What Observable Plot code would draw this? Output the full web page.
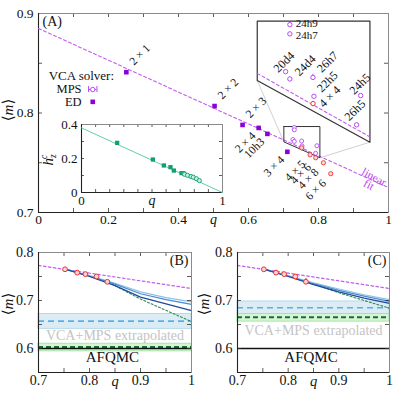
<!DOCTYPE html>
<html><head><meta charset="utf-8">
<script src="https://cdn.jsdelivr.net/npm/d3@7"></script>
<script src="https://cdn.jsdelivr.net/npm/@observablehq/plot@0.6"></script>
<style>
body{margin:0;background:#fff;}
#wrap{position:relative;width:397px;height:397px;overflow:hidden;}
#wrap > div{position:absolute;}
</style></head><body><div id="wrap"></div>
<script>
// ---------------- DATA ----------------
const fitQ = [0, 1];
const fitM = [0.885, 0.725];

const edQ = [0.251, 0.503, 0.583, 0.629, 0.654, 0.711];
const edM = [0.841, 0.807, 0.788, 0.785, 0.779, 0.761];
const edLabels = ["2 × 1", "2 × 2", "2 × 3", "2 × 4", "10h3", "3 × 4"];

const mpsQ = [0.7308, 0.7308, 0.7269, 0.7308, 0.7519, 0.7528, 0.7955, 0.7918];
const mpsM = [0.7855, 0.7831, 0.7733, 0.7714, 0.7718, 0.7669, 0.7671, 0.7595];
const mpsLabels = ["24h9", "24h7", "20d4", "24d4", "26h7", "22h5", "24h5", "26h5"];
const mpsErrIndex = [4];
const mpsErr = [0.0008];

const redQ = [0.752, 0.776, 0.792, 0.814, 0.835];
const redM = [0.765, 0.758, 0.755, 0.750, 0.739];
const redLabels = ["4 × 4", "4 × 5", "4 × 6", "4 × 8", "6 × 6"];

const zoomSrcQ = [0.701, 0.804];
const zoomSrcM = [0.755, 0.7864];
const zoomSrcCornerM = [0.771];
const zoomDstQ = [0.625, 0.947];
const zoomDstM = [0.7707, 0.8923];

const mainXTicks = [0, 0.1, 0.2, 0.3, 0.4, 0.5, 0.6, 0.7, 0.8, 0.9, 1];
const mainXLabels = [0, 0.2, 0.4, 0.6, 0.8, 1];
const mainYTicks = [0.7, 0.75, 0.8, 0.85, 0.9];
const mainYLabels = [0.7, 0.8, 0.9];

const insetLineQ = [0, 1];
const insetLineH = [0.38, 0];
const insetEdQ = [0.253, 0.506, 0.584, 0.631, 0.655, 0.709];
const insetEdH = [0.292, 0.194, 0.159, 0.149, 0.129, 0.114];
const insetMpsQ = [0.727, 0.731, 0.752, 0.777, 0.793, 0.815, 0.836];
const insetMpsH = [0.112, 0.107, 0.101, 0.094, 0.090, 0.081, 0.070];
const insetXTicks = [0, 0.1, 0.2, 0.3, 0.4, 0.5, 0.6, 0.7, 0.8, 0.9, 1];
const insetXLabels = [0, 1];
const insetYTicks = [0, 0.1, 0.2, 0.3, 0.4];
const insetYLabels = [0, 0.2, 0.4];

const bcXTicks = [0.7, 0.75, 0.8, 0.85, 0.9, 0.95, 1];
const bcXLabels = [0.7, 0.8, 0.9, 1];
const bcYTicks = [0.55, 0.6, 0.65, 0.7, 0.75, 0.8];
const bcYLabels = [0.6, 0.7, 0.8];

const extrapQ = [0.75, 0.8, 0.85, 0.9, 0.95, 1];
const bLight = [0.766, 0.752, 0.736, 0.718, 0.706, 0.697];
const bMid   = [0.766, 0.751, 0.734, 0.714, 0.702, 0.692];
const bDark  = [0.766, 0.750, 0.731, 0.707, 0.693, 0.679];
const cLight = [0.766, 0.752, 0.737, 0.724, 0.712, 0.702];
const cMid   = [0.766, 0.751, 0.735, 0.721, 0.709, 0.698];
const cDark  = [0.766, 0.750, 0.733, 0.718, 0.705, 0.694];
const greenQB = [0.83, 0.9, 1];
const greenMB = [0.742, 0.703, 0.656];
const greenQC = [0.84, 0.9, 1];
const greenMC = [0.738, 0.716, 0.684];

const bandBlueB = [0.641, 0.672];
const lineBlueB = [0.657];
const bandGreenB = [0.594, 0.610];
const lineGreenB = [0.603];
const bandBlueC = [0.672, 0.698];
const lineBlueC = [0.685];
const bandGreenC = [0.656, 0.672];
const lineGreenC = [0.665];
const afqmcM = [0.6];
const cErrQ = [0.835];
const cErrLo = [0.739];
const cErrHi = [0.746];

// ---------------- STYLE ----------------
const FONT = "'Liberation Serif', 'DejaVu Serif', serif";
const baseStyle = {fontFamily: FONT, fontSize: "13.5px", background: "transparent", color: "#111", overflow: "visible"};
const PURPLE_LINE = "#c25cf2";
const PURPLE_ED = "#8a00d8";
const PURPLE_MPS = "#b44cf0";
const RED = "#ee3030";
const TICK = "#333";

const wrap = document.getElementById("wrap");
function place(svg, left, top) {
  const d = document.createElement("div");
  d.style.left = left + "px"; d.style.top = top + "px";
  d.appendChild(svg); wrap.appendChild(d);
}
function inward(xt, yt, iw, ih, len) {
  return [
    Plot.tickX(xt, {x: d => d, insetTop: ih - len, stroke: TICK, strokeWidth: 0.8}),
    Plot.tickX(xt, {x: d => d, insetBottom: ih - len, stroke: TICK, strokeWidth: 0.8}),
    Plot.tickY(yt, {y: d => d, insetRight: iw - len, stroke: TICK, strokeWidth: 0.8}),
    Plot.tickY(yt, {y: d => d, insetLeft: iw - len, stroke: TICK, strokeWidth: 0.8})
  ];
}
function frameMarks(xd, yd) {
  return [
    Plot.frame({stroke: "#8a8a8a", strokeWidth: 1}),
    Plot.ruleX([xd[0]], {stroke: "#222", strokeWidth: 1.1}),
    Plot.ruleY([yd[0]], {stroke: "#222", strokeWidth: 1.1})
  ];
}
function mLabel(svg, x, y) {
  const t = d3.select(svg).append("text")
    .attr("transform", `translate(${x},${y}) rotate(-90)`)
    .attr("text-anchor", "middle").attr("font-size", 15).attr("font-family", FONT).attr("fill", "#111");
  t.append("tspan").text("⟨");
  t.append("tspan").attr("font-style", "italic").text("m");
  t.append("tspan").text("⟩");
}

// ---------------- PANEL A ----------------
const fitScale = d3.scaleLinear(fitQ, fitM);
const zq = d3.scaleLinear(zoomSrcQ, zoomDstQ);
const zm = d3.scaleLinear(zoomSrcM, zoomDstM);
const smallBox = [[zoomSrcQ[0], zoomSrcM[1]], [zoomSrcQ[1], zoomSrcM[1]], [zoomSrcQ[1], zoomSrcM[0]], [zoomSrcQ[0], zoomSrcCornerM[0]], [zoomSrcQ[0], zoomSrcM[1]]];
const bigBox = smallBox.map(([q, m]) => [zq(q), zm(m)]);
const connectors = [smallBox[3], smallBox[2]].map(([q, m]) => ({q1: q, m1: m, q2: zq(q), m2: zm(m)}));
const zoomFit = zoomSrcQ.map(q => [zq(q), zm(fitScale(q))]);
const edIdx = edQ.map((_, i) => i);
const mpsIdx = mpsQ.map((_, i) => i);
const redIdx = redQ.map((_, i) => i);

const zoomLabelPos = {"24h9": [6, -1, 0], "24h7": [6, 2, 0], "20d4": [-10, -1, -45], "24d4": [7, -5, -45],
  "26h7": [6, -7, -45], "22h5": [5, -6, -45], "24h5": [-9, -3, -45], "26h5": [-10, -6, -45]};
const zoomLabelMarks = mpsIdx.map(j => {
  const [dx, dy, rot] = zoomLabelPos[mpsLabels[j]];
  return Plot.text([j], {x: i => zq(mpsQ[i]), y: i => zm(mpsM[i]), text: i => mpsLabels[i], dx, dy, rotate: rot,
    textAnchor: "start", fontSize: rot ? 12 : 11, fill: "#111"});
});

const mainPlot = Plot.plot({
  width: 397, height: 230, marginLeft: 38, marginRight: 9, marginTop: 13, marginBottom: 18,
  style: baseStyle,
  x: {domain: [0, 1], ticks: mainXLabels, tickFormat: d => String(d), tickSize: 0, tickPadding: 2, label: null},
  y: {domain: [0.7, 0.9], ticks: mainYLabels, tickFormat: d => String(d), tickSize: 0, tickPadding: 5, label: null},
  marks: [
    ...inward(mainXTicks, mainYTicks, 350, 199, 4),
    ...frameMarks([0, 1], [0.7, 0.9]),
    Plot.line(fitQ.map((q, i) => [q, fitM[i]]), {x: d => d[0], y: d => d[1], stroke: PURPLE_LINE, strokeWidth: 1.1, strokeDasharray: "3,2.5"}),
    Plot.link(connectors, {x1: "q1", y1: "m1", x2: "q2", y2: "m2", stroke: "#c4c4c4", strokeWidth: 0.8}),
    Plot.line(smallBox, {x: d => d[0], y: d => d[1], stroke: "#333", strokeWidth: 1}),
    Plot.line(bigBox, {x: d => d[0], y: d => d[1], stroke: "#333", strokeWidth: 1.2}),
    Plot.line(zoomFit, {x: d => d[0], y: d => d[1], stroke: PURPLE_LINE, strokeWidth: 1.1, strokeDasharray: "3,2.5"}),
    Plot.dot(edIdx, {x: i => edQ[i], y: i => edM[i], symbol: "square", r: 2.6, fill: PURPLE_ED}),
    Plot.dot(mpsIdx, {x: i => mpsQ[i], y: i => mpsM[i], r: 2, stroke: PURPLE_MPS, fill: "white", strokeWidth: 0.9}),
    Plot.dot(redIdx, {x: i => redQ[i], y: i => redM[i], r: 2.1, stroke: RED, fill: "#ffd8d8", strokeWidth: 0.9}),
    Plot.ruleX(mpsErrIndex, {x: i => zq(mpsQ[i]), y1: (i, k) => zm(mpsM[i] - mpsErr[k]), y2: (i, k) => zm(mpsM[i] + mpsErr[k]), stroke: PURPLE_MPS, strokeWidth: 1}),
    Plot.dot(mpsIdx, {x: i => zq(mpsQ[i]), y: i => zm(mpsM[i]), r: 2.2, stroke: PURPLE_MPS, fill: "white", strokeWidth: 1}),
    Plot.dot([0], {x: i => zq(redQ[i]), y: i => zm(redM[i]), r: 2.2, stroke: RED, fill: "white", strokeWidth: 1}),
    ...zoomLabelMarks,
    Plot.text([0], {x: i => zq(redQ[i]), y: i => zm(redM[i]), text: i => redLabels[i], dx: 8, dy: 2, rotate: -45, textAnchor: "start", fontSize: 12, fill: "#111"}),
    Plot.text([0, 1, 2], {x: i => edQ[i], y: i => edM[i], text: i => edLabels[i], dx: 5, dy: -9, rotate: -45, textAnchor: "start", fontSize: 11.5, fill: "#111"}),
    Plot.text([3, 4, 5], {x: i => edQ[i], y: i => edM[i], text: i => edLabels[i], dx: -5, dy: 6, rotate: -45, textAnchor: "end", fontSize: 11.5, fill: "#111"}),
    Plot.text([1, 2, 3, 4], {x: i => redQ[i], y: i => redM[i], text: i => redLabels[i], dx: -15, dy: 16, rotate: -45, textAnchor: "middle", fontSize: 11.5, fill: "#111"}),
    Plot.text(["VCA solver:"], {x: () => 0.029, y: () => 0.8375, text: d => d, textAnchor: "start", fontSize: 13, fill: "#111"}),
    Plot.text(["MPS"], {x: () => 0.123, y: () => 0.8238, text: d => d, textAnchor: "end", fontSize: 12.5, fill: "#111"}),
    Plot.text(["ED"], {x: () => 0.123, y: () => 0.8108, text: d => d, textAnchor: "end", fontSize: 12.5, fill: "#111"}),
    Plot.ruleY([0.8236], {x1: 0.143, x2: 0.167, stroke: PURPLE_MPS, strokeWidth: 1}),
    Plot.ruleX([0.143, 0.167], {y1: 0.8206, y2: 0.8266, stroke: PURPLE_MPS, strokeWidth: 1}),
    Plot.dot([0], {x: () => 0.155, y: () => 0.8236, r: 2.2, stroke: PURPLE_MPS, fill: "white", strokeWidth: 1}),
    Plot.dot([0], {x: () => 0.155, y: () => 0.8112, symbol: "square", r: 2.6, fill: PURPLE_ED}),
    Plot.text(["(A)"], {frameAnchor: "top-left", text: d => d, textAnchor: "start", lineAnchor: "top", dx: 4, dy: 3, fontSize: 14, fill: "#111"}),
    Plot.text(["linear"], {x: () => 0.926, y: () => 0.7416, text: d => d, rotate: 28, textAnchor: "start", fontSize: 11.5, fill: "#c040f0"}),
    Plot.text(["fit"], {x: () => 0.931, y: () => 0.7302, text: d => d, rotate: 28, textAnchor: "start", fontSize: 11.5, fill: "#c040f0"}),
    Plot.text([0.5], {x: d => d, frameAnchor: "bottom", lineAnchor: "top", dy: 2, text: () => "q", fontStyle: "italic", fontSize: 14, fill: "#111"})
  ]
});
mLabel(mainPlot, 13, 110);
place(mainPlot, 0, 0);

// ---------------- INSET ----------------
const insetPlot = Plot.plot({
  width: 192, height: 107, marginLeft: 41, marginRight: 10, marginTop: 14, marginBottom: 25,
  style: {...baseStyle, fontSize: "13px"},
  x: {domain: [0, 1], ticks: insetXLabels, tickFormat: d => String(d), tickSize: 0, tickPadding: 3, label: null},
  y: {domain: [0, 0.4], ticks: insetYLabels, tickFormat: d => String(d), tickSize: 0, tickPadding: 4, label: null},
  marks: [
    Plot.frame({fill: "white", stroke: "none"}),
    ...inward(insetXTicks, insetYTicks, 141, 68, 3),
    ...frameMarks([0, 1], [0, 0.4]),
    Plot.line(insetLineQ.map((q, i) => [q, insetLineH[i]]), {x: d => d[0], y: d => d[1], stroke: "#5fd0a8", strokeWidth: 1}),
    Plot.dot(insetEdQ.map((q, i) => [q, insetEdH[i]]), {x: d => d[0], y: d => d[1], symbol: "square", r: 2.4, fill: "#10a070"}),
    Plot.dot(insetMpsQ.map((q, i) => [q, insetMpsH[i]]), {x: d => d[0], y: d => d[1], r: 2.1, stroke: "#10a070", fill: "#c8f0e0", strokeWidth: 0.9}),
    Plot.text([0.5], {x: d => d, frameAnchor: "bottom", lineAnchor: "top", dy: 3, text: () => "q", fontStyle: "italic", fontSize: 14, fill: "#111"})
  ]
});
{
  const t = d3.select(insetPlot).append("text")
    .attr("transform", "translate(13,50) rotate(-90)")
    .attr("text-anchor", "middle").attr("font-size", 15).attr("font-family", FONT).attr("fill", "#111");
  t.append("tspan").attr("font-style", "italic").text("h");
  t.append("tspan").attr("font-style", "italic").attr("font-size", 9.5).attr("dy", 3).text("z");
  t.append("tspan").attr("font-style", "italic").attr("font-size", 9.5).attr("dx", -4.5).attr("dy", -9).text("c");
}
place(insetPlot, 40, 110);

// ---------------- PANELS B, C ----------------
function bcPanel(o) {
  const xd = [0.7, 1], yd = [0.55, 0.8];
  const iw = 200 - o.ml - o.mr, ih = 120;
  const asPts = (qs, ms) => qs.map((q, i) => [q, ms[i]]);
  const marks = [
    Plot.rect([o.bandBlue], {x1: () => xd[0], x2: () => xd[1], y1: d => d[0], y2: d => d[1], fill: "#dcecf4", stroke: "#a8d2e8", strokeWidth: 0.8}),
    Plot.rect([o.bandGreen], {x1: () => xd[0], x2: () => xd[1], y1: d => d[0], y2: d => d[1], fill: "#d4f6d4", stroke: "#9ae29a", strokeWidth: 0.8}),
    Plot.ruleY(o.lineBlue, {stroke: "#5aaee8", strokeWidth: 1.6, strokeDasharray: "6,4"}),
    Plot.ruleY(o.lineGreen, {stroke: "#1e6b36", strokeWidth: 2, strokeDasharray: "5,3"}),
    Plot.ruleY(afqmcM, {stroke: "#111", strokeWidth: 1.6}),
    Plot.text(["VCA+MPS extrapolated"], {x: () => 0.85, y: () => o.vcaM, text: d => d, fill: "#c4c4c4", fontSize: 14}),
    Plot.text(["AFQMC"], {x: () => 0.845, y: () => 0.582, text: d => d, fill: "#111", fontSize: 15}),
    Plot.line(xd.map(q => [q, fitScale(q)]), {x: d => d[0], y: d => d[1], stroke: PURPLE_LINE, strokeWidth: 1.2, strokeDasharray: "2.5,2.5"}),
    Plot.line(asPts(o.greenQ, o.greenM), {x: d => d[0], y: d => d[1], stroke: "#2a8a55", strokeWidth: 1.1, strokeDasharray: "2,2"}),
    Plot.line(asPts(extrapQ, o.light), {x: d => d[0], y: d => d[1], stroke: "#8cc2ea", strokeWidth: 1.2}),
    Plot.line(asPts(extrapQ, o.mid), {x: d => d[0], y: d => d[1], stroke: "#4c8ad0", strokeWidth: 1.2}),
    Plot.line(asPts(extrapQ, o.dark), {x: d => d[0], y: d => d[1], stroke: "#1f4a98", strokeWidth: 1.2}),
    ...(o.err ? [Plot.ruleX(cErrQ, {x: d => d, y1: (d, i) => cErrLo[i], y2: (d, i) => cErrHi[i], stroke: RED, strokeWidth: 1})] : []),
    Plot.dot(asPts(redQ, redM), {x: d => d[0], y: d => d[1], r: 2.4, stroke: RED, fill: "#ffd4d4", strokeWidth: 1}),
    ...inward(bcXTicks, bcYTicks, iw, ih, 4),
    ...frameMarks(xd, yd),
    Plot.text([o.letter], {frameAnchor: "top-right", text: d => d, textAnchor: "end", lineAnchor: "top", dx: -3, dy: 3, fontSize: 14, fill: "#111"}),
    Plot.text([0.85], {x: d => d, frameAnchor: "bottom", lineAnchor: "top", dy: 3, text: () => "q", fontStyle: "italic", fontSize: 14.5, fill: "#111"})
  ];
  return Plot.plot({
    width: 200, height: 157, marginLeft: o.ml, marginRight: o.mr, marginTop: 12, marginBottom: 25,
    style: {...baseStyle, fontSize: "14px"},
    x: {domain: xd, ticks: bcXLabels, tickFormat: d => String(d), tickSize: 0, tickPadding: 3, label: null},
    y: {domain: yd, ticks: bcYLabels, tickFormat: d => String(d), tickSize: 0, tickPadding: 5, label: null},
    marks
  });
}
const panelB = bcPanel({ml: 38, mr: 9, letter: "(B)", bandBlue: bandBlueB, lineBlue: lineBlueB, bandGreen: bandGreenB, lineGreen: lineGreenB,
  vcaM: 0.627, greenQ: greenQB, greenM: greenMB, light: bLight, mid: bMid, dark: bDark, err: false});
mLabel(panelB, 13, 64);
place(panelB, 0, 240);
const panelC = bcPanel({ml: 40, mr: 8, letter: "(C)", bandBlue: bandBlueC, lineBlue: lineBlueC, bandGreen: bandGreenC, lineGreen: lineGreenC,
  vcaM: 0.638, greenQ: greenQC, greenM: greenMC, light: cLight, mid: cMid, dark: cDark, err: true});
mLabel(panelC, 12, 64);
place(panelC, 197, 240);
</script></body></html>
